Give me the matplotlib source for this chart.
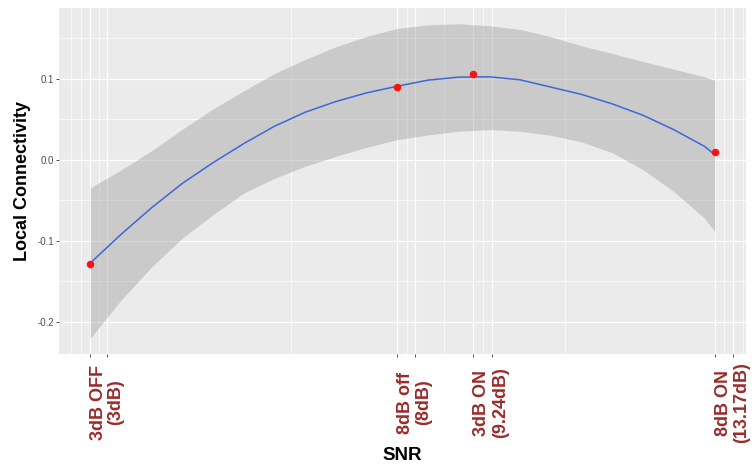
import matplotlib
matplotlib.use("Agg")
import matplotlib.pyplot as plt
import numpy as np

plt.rcParams['font.family'] = ['Liberation Sans', 'DejaVu Sans']

# observed points
snr = [3.0, 8.0, 9.24, 13.17]
conn = [-0.1282, 0.0896, 0.1052, 0.0095]

# smoothed fit and confidence band
smooth_x = [3.0, 3.5, 4.0, 4.5, 5.0, 5.5, 6.0, 6.5, 7.0, 7.5, 8.0,
            8.5, 9.0, 9.5, 10.0, 10.5, 11.0, 11.5, 12.0, 12.5, 13.0, 13.17]
smooth_fit = [-0.1277, -0.0923, -0.0593, -0.0293, -0.0037, 0.0198, 0.0412, 0.0585, 0.0717, 0.0824, 0.0906,
              0.0981, 0.1018, 0.1022, 0.0985, 0.0895, 0.0805, 0.0688, 0.0548, 0.0371, 0.0165, 0.0062]
smooth_upper = [-0.0350, -0.0128, 0.0111, 0.0375, 0.0626, 0.0849, 0.1063, 0.1236, 0.1393, 0.1520, 0.1619,
                0.1664, 0.1677, 0.1652, 0.1607, 0.1516, 0.1405, 0.1310, 0.1211, 0.1117, 0.1022, 0.0981]
smooth_lower = [-0.2204, -0.1735, -0.1323, -0.0968, -0.0680, -0.0412, -0.0231, -0.0082, 0.0041, 0.0152, 0.0247,
                0.0305, 0.0350, 0.0371, 0.0350, 0.0301, 0.0218, 0.0087, -0.0124, -0.0391, -0.0721, -0.0886]

# axis breaks and labels
x_ticks = [3.0, 3.28, 8.0, 8.29, 9.24, 9.54, 13.17, 13.47]
x_tick_labels = ["3dB OFF", "(3dB)", "8dB off", "(8dB)", "3dB ON", "(9.24dB)", "8dB ON", "(13.17dB)"]
x_minor = [2.695, 2.848, 3.147, 6.271, 8.155, 8.753, 9.394, 10.725, 13.316, 13.63]
y_ticks = [-0.2, -0.1, 0.0, 0.1]
y_tick_labels = ["-0.2", "-0.1", "0.0", "0.1"]
y_minor = [-0.15, -0.05, 0.05, 0.15]

fig = plt.figure(figsize=(7.54, 4.66), dpi=100)
ax = fig.add_axes([59/754, 1 - 354/466, 687/754, 346/466])
ax.set_facecolor('#EBEBEB')
for s in ax.spines.values():
    s.set_visible(False)

# limits with ggplot-like 5% expansion
xr = max(snr) - min(snr)
ax.set_xlim(min(snr) - 0.05 * xr, max(snr) + 0.05 * xr)
ylo = min(min(smooth_lower), min(conn))
yhi = max(max(smooth_upper), max(conn))
yr = yhi - ylo
ax.set_ylim(ylo - 0.05 * yr, yhi + 0.05 * yr)

# grid
for v in x_minor:
    ax.axvline(v, color='white', lw=0.5, zorder=0.5)
for v in y_minor:
    ax.axhline(v, color='white', lw=0.5, zorder=0.5)
for v in x_ticks:
    ax.axvline(v, color='white', lw=0.9, zorder=0.6)
for v in y_ticks:
    ax.axhline(v, color='white', lw=0.9, zorder=0.6)

ax.fill_between(smooth_x, smooth_lower, smooth_upper, color='#999999', alpha=0.4, lw=0, zorder=1)
ax.plot(smooth_x, smooth_fit, color='#3F66D8', lw=1.1, zorder=2)
ax.plot(snr, conn, 'o', color='#FF1010', ms=5.4, mec='none', zorder=3)

ax.set_xticks(x_ticks)
ax.set_xticklabels(x_tick_labels, rotation=90, fontsize=13, fontweight='bold', color='#9A2B2B')
for lab in ax.get_xticklabels():
    lab.set_ha('left')
    lab.set_va('center')
ax.tick_params(axis='x', length=2.2, width=0.6, color='#333333', pad=32.8)

ax.set_yticks(y_ticks)
ax.set_yticklabels(y_tick_labels, fontsize=7, color='#4D4D4D')
ax.tick_params(axis='y', length=2.2, width=0.6, color='#333333', pad=1.5)

ax.set_ylabel("Local Connectivity", fontsize=13, fontweight='bold', color='black')
ax.yaxis.set_label_coords(-0.041, 0.5)
ax.set_xlabel("SNR", fontsize=13.5, fontweight='bold', color='black')
ax.xaxis.set_label_coords(0.5, -0.268)

fig.savefig("out.png", dpi=100)
